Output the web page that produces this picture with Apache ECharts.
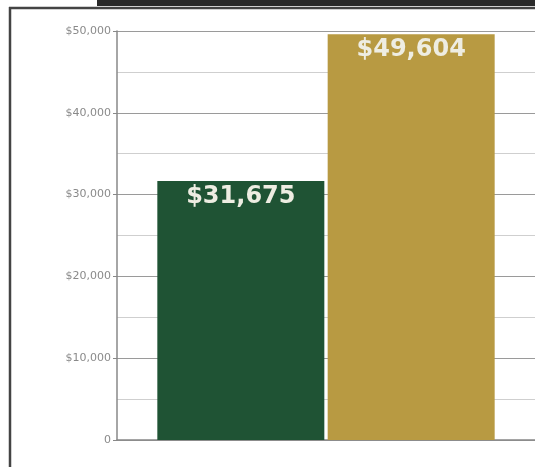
<!DOCTYPE html>
<html>
<head>
<meta charset="utf-8">
<script src="https://cdn.jsdelivr.net/npm/echarts@6/dist/echarts.min.js"></script>
<style>
html,body{margin:0;padding:0;background:#fff;}
#c{width:535px;height:467px;}
</style>
</head>
<body>
<div id="c"></div>
<script>
var categories = [""];
var seriesNames = ["Series 1", "Series 2"];
var seriesValues = [31675, 49604];
var seriesColors = ["#1f5334", "#b89a42"];
var yTicks = [0, 10000, 20000, 30000, 40000, 50000];

function money(v) {
  return v === 0 ? "0" : "$" + v.toLocaleString("en-US");
}

var chart = echarts.init(document.getElementById("c"), null, {renderer: "canvas"});
chart.setOption({
  animation: false,
  backgroundColor: "#ffffff",
  graphic: [
    {type: "rect", shape: {x: 97, y: 0, width: 438, height: 6}, style: {fill: "#2a2a2a"}},
    {type: "line", shape: {x1: 9, y1: 8, x2: 535, y2: 8}, style: {stroke: "#444", lineWidth: 2.5}},
    {type: "line", shape: {x1: 10, y1: 7, x2: 10, y2: 467}, style: {stroke: "#444", lineWidth: 2.5}}
  ],
  grid: {left: 117, right: 0, top: 31, bottom: 27, containLabel: false},
  xAxis: {
    type: "category",
    data: categories,
    axisLine: {show: true, lineStyle: {color: "#888", width: 1.5}},
    axisTick: {show: false},
    axisLabel: {show: false}
  },
  yAxis: {
    type: "value",
    min: yTicks[0],
    max: yTicks[yTicks.length - 1],
    interval: 10000,
    axisLine: {show: true, lineStyle: {color: "#888", width: 1.5}},
    axisTick: {show: true, length: 4, lineStyle: {color: "#888"}},
    axisLabel: {
      formatter: money,
      color: "#8a8a8a",
      fontSize: 11,
      fontFamily: "DejaVu Sans, sans-serif",
      margin: 6
    },
    splitLine: {show: true, lineStyle: {color: "#9a9a9a", width: 1.2}},
    minorTick: {show: false, splitNumber: 2},
    minorSplitLine: {show: true, lineStyle: {color: "#cfcfcf", width: 1}}
  },
  series: seriesNames.map(function (name, i) {
    return {
      name: name,
      type: "bar",
      data: [seriesValues[i]],
      barWidth: 167,
      barGap: "2%",
      itemStyle: {color: seriesColors[i]},
      label: {
        show: true,
        position: "insideTop",
        distance: 4,
        formatter: function (p) { return money(p.value); },
        color: "#eeede2",
        fontSize: 24,
        fontWeight: "bold",
        fontFamily: "DejaVu Sans, sans-serif"
      }
    };
  })
});
</script>
</body>
</html>
